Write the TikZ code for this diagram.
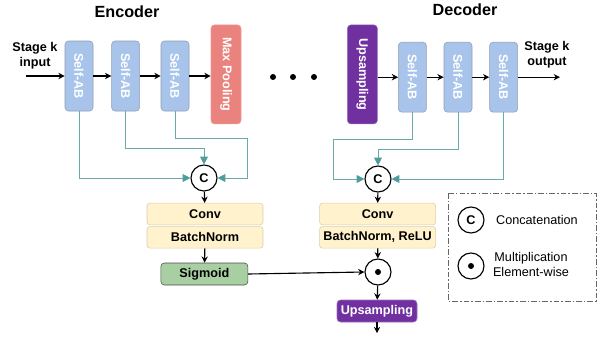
\documentclass[tikz,border=0pt]{standalone}
\usepackage{graphicx}
\usepackage{fontspec}
\setmainfont{Liberation Sans}
\usetikzlibrary{arrows.meta, positioning}

\definecolor{abfill}{HTML}{A9C4EB}
\definecolor{abline}{HTML}{8E9DB3}
\definecolor{poolfill}{HTML}{EA827D}
\definecolor{upfill}{HTML}{7030A0}
\definecolor{convfill}{HTML}{FFF2CC}
\definecolor{convline}{HTML}{D9CFA8}
\definecolor{sigfill}{HTML}{A8CFA2}
\definecolor{skipcol}{HTML}{6AAAAA}
\definecolor{skiptip}{HTML}{4E9C9C}

\newcommand{\vtext}[1]{\rotatebox{-90}{#1}}

\begin{document}
\begin{tikzpicture}[
    font=\bfseries\fontsize{9}{10.5}\selectfont,
    sab/.style={rectangle, draw=abline, fill=abfill, rounded corners=2.5pt,
                minimum width=0.7cm, minimum height=1.75cm, inner sep=0pt, text=white},
    tallbox/.style={rectangle, rounded corners=2.5pt, minimum width=0.75cm,
                minimum height=2.475cm, inner sep=0pt, text=white},
    convbox/.style={rectangle, draw=convline, fill=convfill, rounded corners=2pt,
                minimum width=2.9cm, minimum height=0.54cm, inner sep=0pt},
    opc/.style={circle, draw, line width=0.8pt, minimum size=0.65cm, inner sep=0pt, fill=white},
    title/.style={font=\bfseries\fontsize{11.5}{13}\selectfont},
    arrow/.style={-{Stealth[length=4.5pt, width=4.5pt]}, line width=0.8pt},
    skip/.style={draw=skipcol, line width=0.6pt, -{Triangle[length=5.5pt, width=5.5pt, color=skiptip]}}
]
\useasboundingbox (0,0) rectangle (15,-8.425);

% Encoder row
\node[title] (enctitle) at (3.175,-0.3) {Encoder};
\coordinate (inp) at (0.65,-1.9);
\node[align=center] (intext) at (0.875,-1.39) {Stage k\\input};
\node[sab] (sab1) at (1.975,-1.9) {\vtext{Self-AB}};
\node[sab] (sab2) at (3.14,-1.9) {\vtext{Self-AB}};
\node[sab] (sab3) at (4.375,-1.9) {\vtext{Self-AB}};
\node[tallbox, draw=poolfill!80!white, fill=poolfill] (pool) at (5.65,-1.86) {\vtext{Max Pooling}};

\draw[arrow] (inp) -- (sab1);
\draw[arrow] (sab1) -- (sab2);
\draw[arrow] (sab2) -- (sab3);
\draw[arrow] (sab3) -- (pool.west |- sab3.east);

% dots between the two halves
\foreach \x in {6.825, 7.325, 7.85}
    \fill (\x,-1.925) circle (0.075);

% Decoder row
\node[title] (dectitle) at (11.625,-0.25) {Decoder};
\node[tallbox, draw=upfill!70!white, fill=upfill] (up) at (9.06,-1.86) {\vtext{Upsampling}};
\node[sab] (dsab1) at (10.31,-1.93) {\vtext{Self-AB}};
\node[sab] (dsab2) at (11.45,-1.93) {\vtext{Self-AB}};
\node[sab] (dsab3) at (12.59,-1.93) {\vtext{Self-AB}};
\coordinate (outp) at (14.0,-1.93);
\node[align=center] (outtext) at (13.675,-1.375) {Stage k\\output};

\draw[arrow] (up.east |- dsab1.west) -- (dsab1);
\draw[arrow] (dsab1) -- (dsab2);
\draw[arrow] (dsab2) -- (dsab3);
\draw[arrow] (dsab3) -- (outp);

% Encoder gate
\node[opc] (cE) at (5.1,-4.45) {C};
\node[convbox] (conv) at (5.125,-5.35) {Conv};
\node[convbox, below=0.03 of conv] (bn) {BatchNorm};
\node[rectangle, draw=black!70, fill=sigfill, rounded corners=2.5pt, minimum width=2.175cm,
      minimum height=0.55cm, inner sep=0pt] (sig) at (5.11,-6.85) {Sigmoid};

\draw[skip] (sab1.south) |- (cE.west);
\draw[skip] (sab2.south) -- ++(0,-0.925) -| (cE.north);
\draw[skip] (sab3.south) -- ++(0,-0.675) -| ([xshift=1.075cm]cE.center) -- (cE.east);
\draw[arrow] (cE) -- (conv);
\draw[arrow] (bn) -- (sig);

% Decoder gate
\node[opc] (cD) at (9.45,-4.475) {C};
\node[convbox] (dconv) at (9.44,-5.35) {Conv};
\node[convbox, below=0.03 of dconv] (dbn) {BatchNorm, ReLU};
\node[opc] (mult) at (9.45,-6.8) {};
\fill (mult.center) circle (0.075);
\node[rectangle, draw=upfill!70!white, fill=upfill, text=white, rounded corners=2.5pt,
      minimum width=2.0cm, minimum height=0.55cm, inner sep=0pt] (dup) at (9.425,-7.775) {Upsampling};
\coordinate (dout) at (9.425,-8.33);

\draw[skip] (dsab1.south) -- ++(0,-0.675) -| ([xshift=-1.125cm]cD.center) -- (cD.west);
\draw[skip] (dsab2.south) -- ++(0,-0.925) -| (cD.north);
\draw[skip] (dsab3.south) |- (cD.east);
\draw[arrow] (cD) -- (dconv);
\draw[arrow] (dbn) -- (mult);
\draw[arrow] (sig.east) -- (mult.west);
\draw[arrow] (mult) -- (dup);
\draw[arrow] (dup) -- (dout);

% Legend
\draw[black!60, line width=0.7pt, dash pattern=on 4pt off 1.5pt on 1pt off 1.5pt]
    (11.2,-4.825) rectangle (14.9,-7.525);
\node[opc] (lc) at (11.775,-5.5) {C};
\node[opc] (lm) at (11.775,-6.65) {};
\fill (lm.center) circle (0.075);
\node[font=\fontsize{9}{10.5}\selectfont, anchor=west] (lctext) at (12.28,-5.5) {Concatenation};
\node[font=\fontsize{9}{10.5}\selectfont, align=center] (lmtext) at (13.275,-6.62) {Multiplication\\Element-wise};

\end{tikzpicture}
\end{document}
